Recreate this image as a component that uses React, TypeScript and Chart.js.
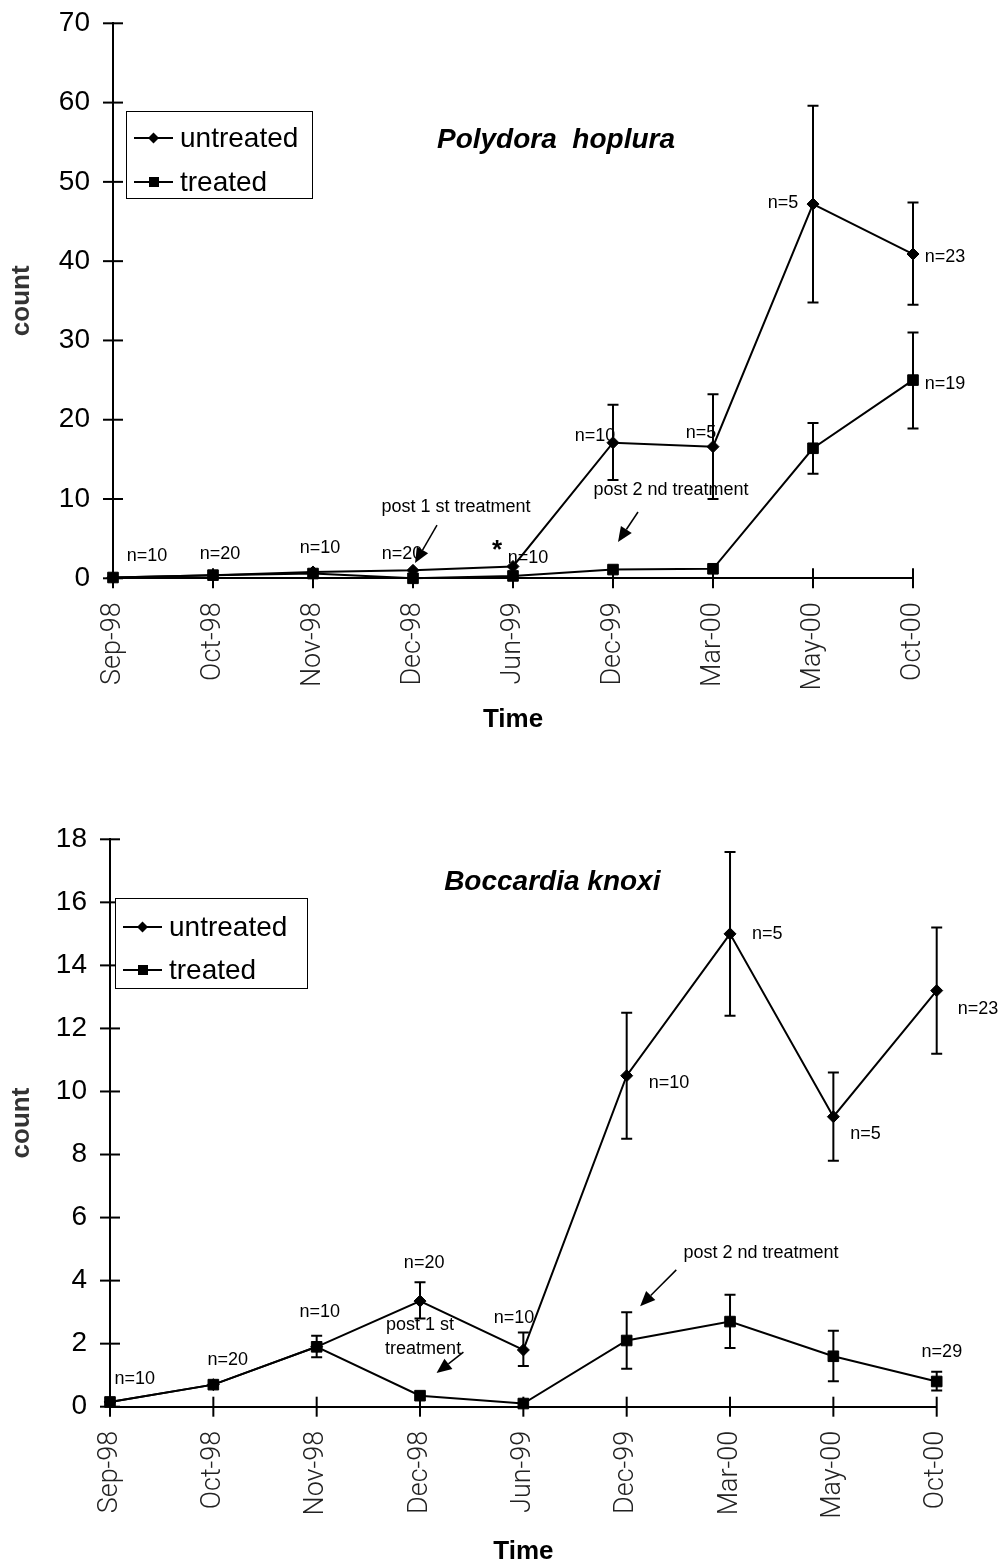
import React, { useEffect, useRef } from 'react';
import { Chart, registerables } from 'chart.js';

Chart.register(...registerables);

// ---------- data ----------
const categories = ['Sep-98', 'Oct-98', 'Nov-98', 'Dec-98', 'Jun-99', 'Dec-99', 'Mar-00', 'May-00', 'Oct-00'];

const polydoraUntreated = [0.1, 0.4, 0.8, 1.0, 1.5, 17.1, 16.6, 47.2, 40.9];
const polydoraTreated = [0.1, 0.4, 0.6, 0.0, 0.3, 1.1, 1.2, 16.4, 25.0];
const polydoraUntreatedLow = [null, null, null, null, null, 12.4, 10.0, 34.8, 34.5];
const polydoraUntreatedHigh = [null, null, null, null, null, 21.9, 23.2, 59.6, 47.4];
const polydoraTreatedLow = [null, null, null, null, null, null, null, 13.2, 18.9];
const polydoraTreatedHigh = [null, null, null, null, null, null, null, 19.6, 31.0];

const boccardiaUntreated = [0.15, 0.7, 1.9, 3.35, 1.8, 10.5, 15.0, 9.2, 13.2];
const boccardiaTreated = [0.15, 0.7, 1.9, 0.35, 0.1, 2.1, 2.7, 1.6, 0.8];
const boccardiaUntreatedLow = [null, null, null, 2.8, 1.29, 8.5, 12.4, 7.8, 11.2];
const boccardiaUntreatedHigh = [null, null, null, 3.95, 2.35, 12.5, 17.6, 10.6, 15.2];
const boccardiaTreatedLow = [null, null, 1.57, null, null, 1.2, 1.86, 0.81, 0.51];
const boccardiaTreatedHigh = [null, null, 2.25, null, null, 3.0, 3.55, 2.41, 1.11];

const seriesLabels = ['untreated', 'treated'];

// annotation texts anchored in data coordinates (category index, value)
const polydoraNotes = [
  { x: 0.34, y: 2.8, text: 'n=10' },
  { x: 1.07, y: 3.06, text: 'n=20' },
  { x: 2.07, y: 3.82, text: 'n=10' },
  { x: 2.89, y: 3.06, text: 'n=20' },
  { x: 4.15, y: 2.56, text: 'n=10' },
  { x: 4.82, y: 17.95, text: 'n=10' },
  { x: 5.88, y: 18.3, text: 'n=5' },
  { x: 6.7, y: 47.3, text: 'n=5' },
  { x: 8.32, y: 40.5, text: 'n=23' },
  { x: 8.32, y: 24.5, text: 'n=19' },
  { x: 3.43, y: 9.0, text: 'post 1 st treatment' },
  { x: 5.58, y: 11.13, text: 'post 2 nd treatment' },
];
const polydoraStars = [{ x: 3.84, y: 3.5, text: '*' }];
const polydoraArrows = [
  { x1: 3.24, y1: 6.72, x2: 3.02, y2: 1.93 },
  { x1: 5.25, y1: 8.36, x2: 5.05, y2: 4.58 },
];

const boccardiaNotes = [
  { x: 0.24, y: 0.88, text: 'n=10' },
  { x: 1.14, y: 1.48, text: 'n=20' },
  { x: 2.03, y: 3.0, text: 'n=10' },
  { x: 3.04, y: 4.56, text: 'n=20' },
  { x: 3.91, y: 2.81, text: 'n=10' },
  { x: 5.41, y: 10.27, text: 'n=10' },
  { x: 6.36, y: 15.0, text: 'n=5' },
  { x: 7.31, y: 8.65, text: 'n=5' },
  { x: 8.4, y: 12.61, text: 'n=23' },
  { x: 8.05, y: 1.73, text: 'n=29' },
  { x: 3.0, y: 2.59, text: 'post 1 st' },
  { x: 3.03, y: 1.83, text: 'treatment' },
  { x: 6.3, y: 4.87, text: 'post 2 nd treatment' },
];
const boccardiaArrows = [
  { x1: 3.42, y1: 1.73, x2: 3.16, y2: 1.07 },
  { x1: 5.48, y1: 4.34, x2: 5.13, y2: 3.19 },
];

// ---------- styling ----------
const FONT = 'Arial, "Liberation Sans", Helvetica, sans-serif';
const TICK_FONT = 'Roboto, "Liberation Sans Narrow", "DejaVu Sans", sans-serif';

type Spec = {
  height: number;
  untreated: number[];
  treated: number[];
  errors: { low: (number | null)[]; high: (number | null)[] }[];
  yMax: number;
  yStep: number;
  padTop: number;
  padRight: number;
  yWidth: number;
  xHeight: number;
  timeOffset: number;
  notes: { x: number; y: number; text: string }[];
  stars: { x: number; y: number; text: string }[];
  arrows: { x1: number; y1: number; x2: number; y2: number }[];
  title: { x: number; y: number; text: string };
  legend: { dx: number; dy: number; w: number; h: number; row1: number; row2: number };
};

function drawDiamond(ctx: CanvasRenderingContext2D, x: number, y: number, r: number) {
  ctx.beginPath();
  ctx.moveTo(x, y - r);
  ctx.lineTo(x + r, y);
  ctx.lineTo(x, y + r);
  ctx.lineTo(x - r, y);
  ctx.closePath();
  ctx.fill();
}

function makeOverlay(spec: Spec) {
  return {
    id: 'overlay',
    beforeDatasetsDraw(chart: any) {
      const xs = chart.scales.x;
      const ys = chart.scales.y;
      const ctx: CanvasRenderingContext2D = chart.ctx;
      ctx.save();
      ctx.strokeStyle = '#000';
      ctx.lineWidth = 2;
      spec.errors.forEach(({ low, high }) => {
        low.forEach((lo, i) => {
          const hi = high[i];
          if (lo == null || hi == null) return;
          const px = xs.getPixelForValue(i);
          const pLo = ys.getPixelForValue(lo);
          const pHi = ys.getPixelForValue(hi);
          ctx.beginPath();
          ctx.moveTo(px, pLo);
          ctx.lineTo(px, pHi);
          ctx.moveTo(px - 5.5, pLo);
          ctx.lineTo(px + 5.5, pLo);
          ctx.moveTo(px - 5.5, pHi);
          ctx.lineTo(px + 5.5, pHi);
          ctx.stroke();
        });
      });
      ctx.restore();
    },
    afterDraw(chart: any) {
      const xs = chart.scales.x;
      const ys = chart.scales.y;
      const area = chart.chartArea;
      const ctx: CanvasRenderingContext2D = chart.ctx;
      ctx.save();
      // crossing tick marks
      ctx.strokeStyle = '#000';
      ctx.lineWidth = 2;
      ys.ticks.forEach((_t: any, i: number) => {
        const py = ys.getPixelForTick(i);
        ctx.beginPath();
        ctx.moveTo(area.left - 10, py);
        ctx.lineTo(area.left + 10, py);
        ctx.stroke();
      });
      xs.ticks.forEach((_t: any, i: number) => {
        const px = xs.getPixelForTick(i);
        ctx.beginPath();
        ctx.moveTo(px, area.bottom - 10);
        ctx.lineTo(px, area.bottom + 10);
        ctx.stroke();
      });

      // annotation texts
      ctx.fillStyle = '#000';
      ctx.textAlign = 'center';
      ctx.textBaseline = 'middle';
      ctx.font = `18px ${FONT}`;
      spec.notes.forEach((n) => {
        ctx.fillText(n.text, xs.getPixelForValue(n.x), ys.getPixelForValue(n.y));
      });
      ctx.font = `bold 26px ${FONT}`;
      spec.stars.forEach((n) => {
        ctx.fillText(n.text, xs.getPixelForValue(n.x), ys.getPixelForValue(n.y));
      });

      // arrows
      spec.arrows.forEach((a) => {
        const x1 = xs.getPixelForValue(a.x1);
        const y1 = ys.getPixelForValue(a.y1);
        const x2 = xs.getPixelForValue(a.x2);
        const y2 = ys.getPixelForValue(a.y2);
        const ang = Math.atan2(y2 - y1, x2 - x1);
        const hl = 15;
        const hw = 6.5;
        const bx = x2 - hl * Math.cos(ang);
        const by = y2 - hl * Math.sin(ang);
        ctx.lineWidth = 1.5;
        ctx.beginPath();
        ctx.moveTo(x1, y1);
        ctx.lineTo(bx, by);
        ctx.stroke();
        ctx.beginPath();
        ctx.moveTo(x2, y2);
        ctx.lineTo(bx + hw * Math.sin(ang), by - hw * Math.cos(ang));
        ctx.lineTo(bx - hw * Math.sin(ang), by + hw * Math.cos(ang));
        ctx.closePath();
        ctx.fill();
      });

      // species title
      ctx.font = `italic bold 28px ${FONT}`;
      ctx.fillText(spec.title.text, xs.getPixelForValue(spec.title.x), ys.getPixelForValue(spec.title.y));

      // legend
      const L = spec.legend;
      const lx = area.left + L.dx;
      const ly = area.top + L.dy;
      ctx.fillStyle = '#fff';
      ctx.fillRect(lx, ly, L.w, L.h);
      ctx.strokeStyle = '#000';
      ctx.lineWidth = 1;
      ctx.strokeRect(lx + 0.5, ly + 0.5, L.w, L.h);
      ctx.fillStyle = '#000';
      ctx.lineWidth = 2;
      ctx.font = `28px ${FONT}`;
      ctx.textAlign = 'left';
      const rows = [L.row1, L.row2];
      seriesLabels.forEach((label, i) => {
        const ry = ly + rows[i];
        ctx.beginPath();
        ctx.moveTo(lx + 8, ry);
        ctx.lineTo(lx + 47, ry);
        ctx.stroke();
        if (i === 0) drawDiamond(ctx, lx + 27.5, ry, 5.5);
        else ctx.fillRect(lx + 23, ry - 5, 10, 10);
        ctx.fillText(label, lx + 54, ry + 1);
      });
      ctx.restore();
    },
  };
}

function buildConfig(spec: Spec): any {
  return {
    type: 'line',
    data: {
      labels: categories,
      datasets: [
        {
          label: seriesLabels[0],
          data: spec.untreated,
          borderColor: '#000',
          backgroundColor: '#000',
          borderWidth: 2,
          pointStyle: 'rectRot',
          pointRadius: 6,
          pointBorderWidth: 1,
          tension: 0,
          clip: false,
        },
        {
          label: seriesLabels[1],
          data: spec.treated,
          borderColor: '#000',
          backgroundColor: '#000',
          borderWidth: 2,
          pointStyle: 'rect',
          pointRadius: 7.5,
          pointBorderWidth: 1,
          tension: 0,
          clip: false,
        },
      ],
    },
    options: {
      animation: false,
      responsive: false,
      events: [],
      layout: { padding: { top: spec.padTop, right: spec.padRight, left: 0, bottom: 0 } },
      plugins: { legend: { display: false }, tooltip: { enabled: false }, title: { display: false } },
      scales: {
        x: {
          type: 'category',
          offset: false,
          grid: { display: false, drawTicks: false },
          border: { display: true, color: '#000', width: 2 },
          ticks: {
            autoSkip: false,
            minRotation: 90,
            maxRotation: 90,
            padding: 24,
            color: '#222',
            font: { family: TICK_FONT, size: 27, weight: 300 },
          },
          title: {
            display: true,
            text: 'Time',
            color: '#000',
            font: { family: FONT, size: 26, weight: 'bold', lineHeight: 1 },
            padding: { top: 0, bottom: spec.timeOffset },
          },
          afterFit: (s: any) => {
            s.height = spec.xHeight;
            s.paddingLeft = 0;
            s.paddingRight = 0;
          },
        },
        y: {
          type: 'linear',
          min: 0,
          max: spec.yMax,
          grid: { display: false, drawTicks: false },
          border: { display: true, color: '#000', width: 2 },
          ticks: {
            stepSize: spec.yStep,
            padding: 23,
            color: '#000',
            font: { family: FONT, size: 28 },
          },
          title: {
            display: true,
            text: 'count',
            color: '#333',
            font: { family: FONT, size: 26, weight: 'bold', lineHeight: 1 },
            padding: { top: 9, bottom: 0 },
          },
          afterFit: (s: any) => {
            s.width = spec.yWidth;
            s.paddingTop = 0;
            s.paddingBottom = 0;
          },
        },
      },
    },
    plugins: [makeOverlay(spec)],
  };
}

const topSpec: Spec = {
  height: 780,
  untreated: polydoraUntreated,
  treated: polydoraTreated,
  errors: [
    { low: polydoraUntreatedLow, high: polydoraUntreatedHigh },
    { low: polydoraTreatedLow, high: polydoraTreatedHigh },
  ],
  yMax: 70,
  yStep: 10,
  padTop: 23.3,
  padRight: 86,
  yWidth: 113,
  xHeight: 201.7,
  timeOffset: 47,
  notes: polydoraNotes,
  stars: polydoraStars,
  arrows: polydoraArrows,
  title: { x: 4.43, y: 55.3, text: 'Polydora  hoplura' },
  legend: { dx: 13, dy: 87.7, w: 186, h: 87, row1: 27, row2: 71 },
};

const bottomSpec: Spec = {
  height: 786,
  untreated: boccardiaUntreated,
  treated: boccardiaTreated,
  errors: [
    { low: boccardiaUntreatedLow, high: boccardiaUntreatedHigh },
    { low: boccardiaTreatedLow, high: boccardiaTreatedHigh },
  ],
  yMax: 18,
  yStep: 2,
  padTop: 59.3,
  padRight: 62.3,
  yWidth: 110,
  xHeight: 159.3,
  timeOffset: 1,
  notes: boccardiaNotes,
  stars: [],
  arrows: boccardiaArrows,
  title: { x: 4.28, y: 16.65, text: 'Boccardia knoxi' },
  legend: { dx: 5, dy: 58.7, w: 192, h: 90, row1: 29, row2: 72 },
};

function ChartCanvas({ spec }: { spec: Spec }) {
  const ref = useRef<HTMLCanvasElement | null>(null);
  useEffect(() => {
    if (!ref.current) return;
    const chart = new Chart(ref.current, buildConfig(spec));
    return () => chart.destroy();
  }, [spec]);
  return <canvas ref={ref} width={999} height={spec.height} style={{ display: 'block', width: 999, height: spec.height }} />;
}

export default function App() {
  return (
    <div style={{ position: 'absolute', left: 0, top: 0, width: 999, height: 1566, background: '#fff' }}>
      <ChartCanvas spec={topSpec} />
      <ChartCanvas spec={bottomSpec} />
    </div>
  );
}
